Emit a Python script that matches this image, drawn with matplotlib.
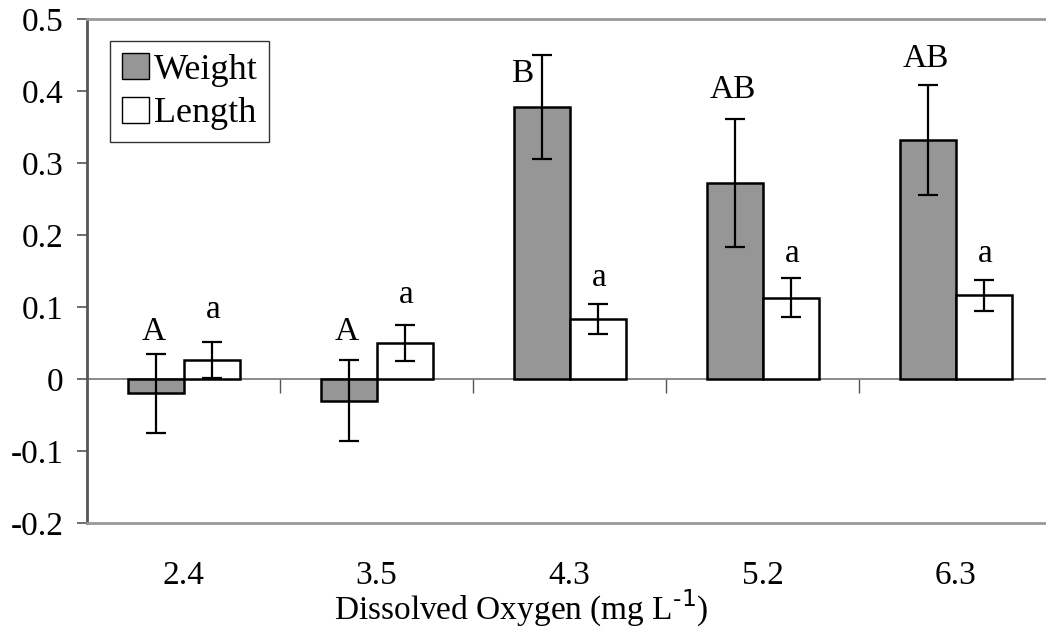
import numpy as np
import matplotlib.pyplot as plt

plt.rcParams['font.family'] = ['Liberation Serif', 'DejaVu Serif']

# data
oxygen = ['2.4', '3.5', '4.3', '5.2', '6.3']
weight = [-0.020, -0.030, 0.378, 0.272, 0.332]
weight_err = [0.055, 0.056, 0.072, 0.089, 0.076]
length = [0.026, 0.050, 0.083, 0.113, 0.116]
length_err = [0.025, 0.025, 0.021, 0.027, 0.022]

# significance letters and the height of their baseline
weight_letters = ['A', 'A', 'B', 'AB', 'AB']
weight_letter_y = [0.054, 0.054, 0.412, 0.390, 0.433]
length_letters = ['a', 'a', 'a', 'a', 'a']
length_letter_y = [0.085, 0.106, 0.129, 0.163, 0.163]

fig = plt.figure(figsize=(10.46, 6.36), dpi=100)
ax = fig.add_axes([0.0832, 0.1777, 0.9226, 0.7925])

x = np.arange(len(oxygen))
w = 0.29
ax.bar(x - w / 2, weight, w, color='#969696', edgecolor='black',
       linewidth=1.8, label='Weight', zorder=3)
ax.bar(x + w / 2, length, w, color='white', edgecolor='black',
       linewidth=1.8, label='Length', zorder=3)
ax.errorbar(x - w / 2, weight, yerr=weight_err, fmt='none', ecolor='black',
            elinewidth=1.6, capsize=7, capthick=1.6, zorder=4)
ax.errorbar(x + w / 2, length, yerr=length_err, fmt='none', ecolor='black',
            elinewidth=1.6, capsize=7, capthick=1.6, zorder=4)

for i in range(len(oxygen)):
    dx = -0.1 if weight_letters[i] == 'B' else -0.01
    ax.text(x[i] - w / 2 + dx, weight_letter_y[i], weight_letters[i],
            ha='center', va='baseline', fontsize=24)
    ax.text(x[i] + w / 2 + 0.01, length_letter_y[i], length_letters[i],
            ha='center', va='baseline', fontsize=24)

ax.set_xlim(-0.5, len(oxygen) - 0.5)
ax.set_ylim(-0.2, 0.5)
ax.set_yticks(np.arange(-0.2, 0.51, 0.1))
ax.set_yticklabels(['-0.2', '-0.1', '0', '0.1', '0.2', '0.3', '0.4', '0.5'])
ax.set_xticks(x)
ax.set_xticklabels(oxygen)
ax.tick_params(axis='y', direction='out', length=7, width=1.2,
               color='#555555', labelsize=24, pad=10)
ax.tick_params(axis='x', length=0, labelsize=24, pad=27)
ax.set_xlabel('Dissolved Oxygen (mg L$^{\\text{-1}}$)', fontsize=24,
              labelpad=-2)
ax.xaxis.label.set_x(0.45)

ax.spines['right'].set_visible(False)
ax.spines['top'].set_color('#999999')
ax.spines['top'].set_linewidth(2)
ax.spines['bottom'].set_color('#999999')
ax.spines['bottom'].set_linewidth(2)
ax.spines['left'].set_color('#555555')
ax.spines['left'].set_linewidth(2)

# zero line with category separators
zero = ax.secondary_xaxis(0.2 / 0.7)
zero.set_xticks(x[:-1] + 0.5, labels=[])
zero.tick_params(axis='x', direction='out', length=10, width=1,
                 color='#555555', bottom=True, top=False)
zero.spines['bottom'].set_color('#777777')
zero.spines['bottom'].set_linewidth(1.2)
zero.spines['top'].set_visible(False)

leg = ax.legend(loc='upper left', bbox_to_anchor=(0.0238, 0.956),
                borderaxespad=0, fontsize=26, frameon=True, fancybox=False,
                edgecolor='black', handlelength=0.75, handleheight=0.75,
                handletextpad=0.15, labelspacing=0.28, borderpad=0.32)
leg.get_frame().set_linewidth(1.0)
for h in leg.legend_handles:
    h.set_linewidth(1.0)

fig.savefig('out.png', dpi=100)
